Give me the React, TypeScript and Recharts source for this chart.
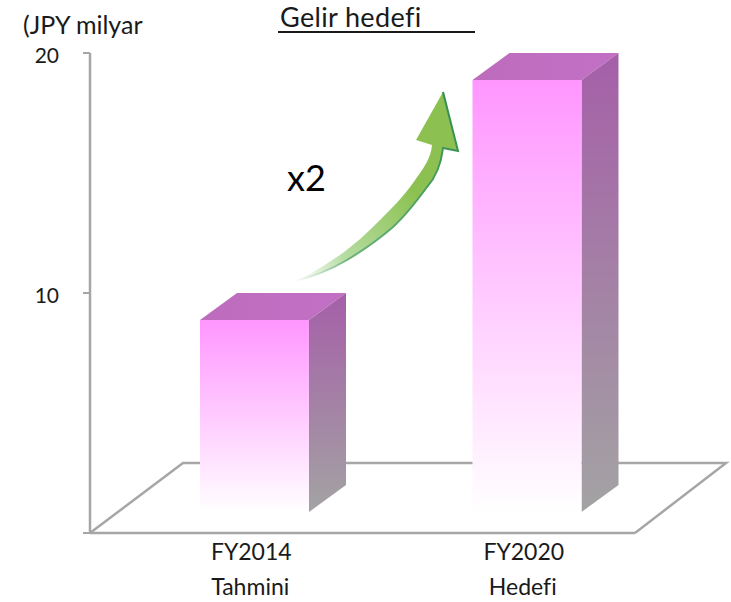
import { BarChart, Bar, XAxis, YAxis } from 'recharts'

const categories = ['FY2014', 'FY2020']
const subLabels = ['Tahmini', 'Hedefi']
const revenue = [10, 20]
const yTicks = [0, 10, 20]

const chartData = categories.map((name, i) => ({ name, sub: subLabels[i], revenue: revenue[i] }))

const FONT = 'Lato, sans-serif'
const GRAY = '#a6a6a6'
const DEPTH_X = 37
const DEPTH_Y = 27
const FRONT_GAP = 21 // front face stops above the axis line

// the 3d box, value is read at the back top edge
const Box3D = (props: any) => {
  const { x, y, width, height } = props
  const frontTop = y + DEPTH_Y
  const frontBottom = y + height - FRONT_GAP
  const right = x + width
  return (
    <g>
      <polygon
        points={`${x},${frontTop} ${x + DEPTH_X},${y} ${right + DEPTH_X},${y} ${right},${frontTop}`}
        fill="url(#topFace)"
      />
      <polygon
        points={`${right},${frontTop} ${right + DEPTH_X},${y} ${right + DEPTH_X},${frontBottom - DEPTH_Y} ${right},${frontBottom}`}
        fill="url(#sideFace)"
      />
      <rect x={x} y={frontTop} width={width} height={frontBottom - frontTop} fill="url(#frontFace)" />
    </g>
  )
}

const CategoryTick = (props: any) => {
  const { x, y, index } = props
  return (
    <text
      x={x}
      y={y}
      textAnchor="middle"
      fontFamily={FONT}
      fontSize={23}
      fill="#1a1a1a"
      style={{ fontVariantLigatures: 'none' }}
    >
      <tspan x={x - 3} dy={19}>{categories[index]}</tspan>
      <tspan x={x - 4} dy={35}>{subLabels[index]}</tspan>
    </text>
  )
}

const App = () => {
  return (
    <div style={{ position: 'absolute', left: 0, top: 0, width: 731, height: 602 }}>
      <BarChart
        width={731}
        height={602}
        data={chartData}
        margin={{ top: 53, right: 96, bottom: 0, left: 0 }}
      >
        <defs>
          <linearGradient id="frontFace" x1="0" y1="0" x2="0" y2="1">
            <stop offset="0%" stopColor="#ff96ff" />
            <stop offset="100%" stopColor="#ffffff" />
          </linearGradient>
          <linearGradient id="sideFace" x1="0" y1="0" x2="0" y2="1">
            <stop offset="0%" stopColor="#a55fa8" />
            <stop offset="100%" stopColor="#a3a3a3" />
          </linearGradient>
          <linearGradient id="topFace" x1="0" y1="0" x2="1" y2="0">
            <stop offset="0%" stopColor="#bd6cbd" />
            <stop offset="100%" stopColor="#c270c4" />
          </linearGradient>
          <linearGradient id="arrowFill" x1="0" y1="1" x2="1" y2="0">
            <stop offset="0%" stopColor="#ffffff" />
            <stop offset="22%" stopColor="#b4dca0" />
            <stop offset="60%" stopColor="#8cc152" />
            <stop offset="100%" stopColor="#8cc152" />
          </linearGradient>
          <linearGradient id="arrowEdge" x1="0" y1="1" x2="1" y2="0">
            <stop offset="0%" stopColor="#ffffff" />
            <stop offset="22%" stopColor="#6db27a" />
            <stop offset="100%" stopColor="#2f8a4e" />
          </linearGradient>
        </defs>

        {/* floor of the 3d plot */}
        <polyline points="90,533 183,463 726,463 635,533" fill="none" stroke={GRAY} strokeWidth={2.5} />

        <XAxis
          dataKey="name"
          padding={{ left: 28, right: -28 }}
          axisLine={{ stroke: GRAY, strokeWidth: 2.5 }}
          tickLine={false}
          tick={<CategoryTick />}
          interval={0}
          height={69}
        />
        <YAxis
          domain={[0, 20]}
          ticks={yTicks}
          width={90}
          tickSize={7}
          tickMargin={24}
          axisLine={{ stroke: GRAY, strokeWidth: 2.5 }}
          tickLine={{ stroke: GRAY, strokeWidth: 2 }}
          tick={{ fontFamily: FONT, fontSize: 21, fill: '#1a1a1a', dy: 3 }}
          tickFormatter={(v: number) => (v === 0 ? '' : String(v))}
        />
        <Bar dataKey="revenue" barSize={109} shape={<Box3D />} isAnimationActive={false} />

        {/* growth arrow */}
        <path
          d="M295,281 C310,275 325,265 337,257 C352,247 366,234 380,220 C392,208 404,196 413,183 C424,168 431,158 432,145 L416,140 L443,92 L458,151 L443,148 C441,165 436,177 427,187 C416,202 405,216 393,227 C378,240 362,251 347,260 C330,270 312,277 295,281 Z"
          fill="url(#arrowFill)"
        />
        <path
          d="M443,92 L458,151 L443,148 C441,165 436,177 427,187 C416,202 405,216 393,227 C378,240 362,251 347,260 C330,270 312,277 295,281"
          fill="none"
          stroke="url(#arrowEdge)"
          strokeWidth={2}
        />

        <text x={287} y={191} fontFamily={FONT} fontSize={36} fill="#000">x2</text>
        <text x={23} y={34} fontFamily={FONT} fontSize={25} fill="#1a1a1a">(JPY milyar</text>
        <text x={280} y={27} fontFamily={FONT} fontSize={27} letterSpacing={0.35} fill="#1a1a1a" style={{ fontVariantLigatures: 'none' }}>Gelir hedefi</text>
        <line x1={278} y1={32} x2={475} y2={32} stroke="#1a1a1a" strokeWidth={2} />
      </BarChart>
    </div>
  )
}

export default App
